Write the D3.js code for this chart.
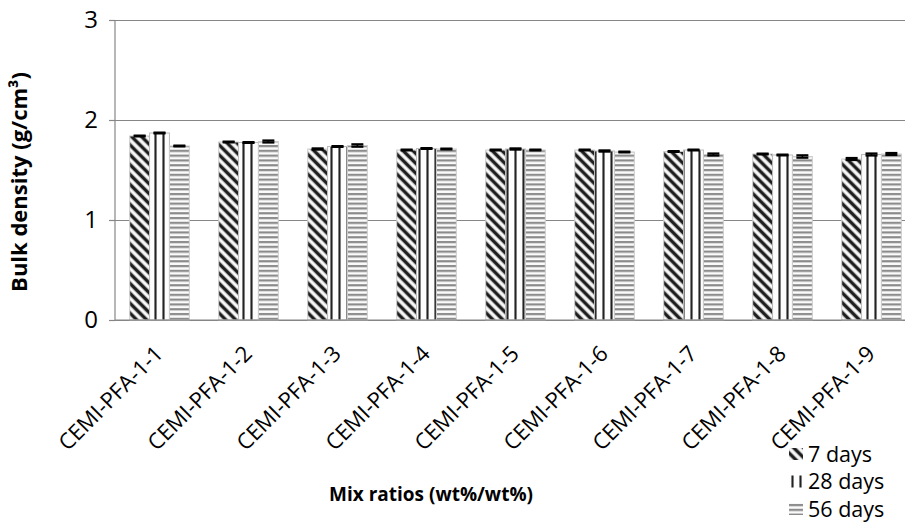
<!DOCTYPE html>
<html>
<head>
<meta charset="utf-8">
<script src="https://cdn.jsdelivr.net/npm/d3@7"></script>
<style>
  body { margin: 0; background: #fff; }
  text { font-family: "Open Sans", "Noto Sans", sans-serif; fill: #000; }
</style>
</head>
<body>
<div class="demo"></div>
<script>
(function() {
    var categories = ["CEMI-PFA-1-1", "CEMI-PFA-1-2", "CEMI-PFA-1-3", "CEMI-PFA-1-4", "CEMI-PFA-1-5",
                      "CEMI-PFA-1-6", "CEMI-PFA-1-7", "CEMI-PFA-1-8", "CEMI-PFA-1-9"];
    var seriesNames = ["7 days", "28 days", "56 days"];
    var days7  = [1.84, 1.78, 1.71, 1.70, 1.70, 1.70, 1.685, 1.66, 1.61];
    var days28 = [1.87, 1.775, 1.735, 1.715, 1.71, 1.69, 1.70, 1.65, 1.655];
    var days56 = [1.74, 1.785, 1.745, 1.71, 1.70, 1.68, 1.655, 1.635, 1.66];
    var err7  = [0.004, 0.004, 0.006, 0.004, 0.004, 0.004, 0.004, 0.004, 0.01];
    var err28 = [0.004, 0.004, 0.004, 0.004, 0.006, 0.006, 0.004, 0.004, 0.01];
    var err56 = [0.004, 0.01, 0.012, 0.004, 0.004, 0.004, 0.01, 0.012, 0.01];
    var yTicks = [0, 1, 2, 3];

    var width = 905,
        height = 524;

    var margin = {left: 115, top: 20, bottom: 204};
    var plotRight = 916;

    var svg = d3.select(".demo").append("svg")
        .attr("width", width)
        .attr("height", height);

    svg.append("rect").attr("width", width).attr("height", height).attr("fill", "#fff");

    // patterns for the three series
    var defs = svg.append("defs");

    var p1 = defs.append("pattern").attr("id", "pat0")
        .attr("patternUnits", "userSpaceOnUse")
        .attr("width", 7).attr("height", 7)
        .attr("patternTransform", "rotate(45)");
    p1.append("rect").attr("width", 7).attr("height", 7).attr("fill", "#fafafa");
    p1.append("rect").attr("y", 1.4).attr("width", 7).attr("height", 4.2).attr("fill", "#999");
    p1.append("rect").attr("y", 2.1).attr("width", 7).attr("height", 2.8).attr("fill", "#1a1a1a");

    var p2 = defs.append("pattern").attr("id", "pat1")
        .attr("patternUnits", "userSpaceOnUse")
        .attr("width", 8).attr("height", 8);
    p2.append("rect").attr("width", 8).attr("height", 8).attr("fill", "#fdfdfd");
    p2.append("rect").attr("x", 2).attr("width", 3).attr("height", 8).attr("fill", "#aaa");
    p2.append("rect").attr("x", 2.7).attr("width", 1.6).attr("height", 8).attr("fill", "#222");

    var p3 = defs.append("pattern").attr("id", "pat2")
        .attr("patternUnits", "userSpaceOnUse")
        .attr("width", 8).attr("height", 4.8);
    p3.append("rect").attr("width", 8).attr("height", 4.8).attr("fill", "#fbfbfb");
    p3.append("rect").attr("y", 1).attr("width", 8).attr("height", 2.2).attr("fill", "#8a8a8a");

    var y = d3.scaleLinear()
        .domain([0, 3])
        .range([height - margin.bottom, margin.top]);

    var x0 = d3.scaleBand()
        .domain(categories)
        .range([margin.left, plotRight])
        .paddingInner(0)
        .paddingOuter(0);

    var x1 = d3.scaleBand()
        .domain(seriesNames)
        .range([0, x0.bandwidth()])
        .paddingOuter(0.74)
        .paddingInner(0);

    // gridlines + y axis
    var yAxis = d3.axisLeft(y)
        .tickValues(yTicks)
        .tickSize(-(plotRight - margin.left))
        .tickFormat(d3.format("d"));

    var gy = svg.append("g")
        .attr("transform", "translate(" + margin.left + ",0)")
        .call(yAxis);
    gy.select(".domain").remove();
    gy.selectAll(".tick line").attr("stroke", "#868686").attr("stroke-width", 1.2);
    gy.selectAll(".tick").append("line")
        .attr("x1", -6).attr("x2", 0)
        .attr("stroke", "#868686").attr("stroke-width", 1.2);
    gy.selectAll(".tick text")
        .attr("x", -17)
        .style("font-size", "24px")
        .style("font-family", "'Open Sans', 'Noto Sans', sans-serif");

    svg.append("line")
        .attr("x1", margin.left).attr("x2", margin.left)
        .attr("y1", y(3)).attr("y2", y(0))
        .attr("stroke", "#868686").attr("stroke-width", 1.2);

    var series = [days7, days28, days56];
    var errs = [err7, err28, err56];

    var rows = [];
    categories.forEach(function(c, i) {
        seriesNames.forEach(function(s, j) {
            rows.push({cat: c, s: s, j: j, v: series[j][i], e: errs[j][i]});
        });
    });

    var bars = svg.append("g");
    bars.selectAll("rect")
        .data(rows)
        .enter().append("rect")
        .attr("x", function(d) { return x0(d.cat) + x1(d.s); })
        .attr("y", function(d) { return y(d.v); })
        .attr("width", x1.bandwidth())
        .attr("height", function(d) { return y(0) - y(d.v); })
        .attr("fill", function(d) { return "url(#pat" + d.j + ")"; })
        .attr("stroke", function(d) { return d.j === 1 ? "#bbb" : "#ccc"; })
        .attr("stroke-width", 1);

    // error bars
    var eb = svg.append("g").attr("stroke", "#000").attr("stroke-width", 1.6);
    rows.forEach(function(d) {
        var cx = x0(d.cat) + x1(d.s) + x1.bandwidth() / 2;
        var g = eb.append("g");
        g.append("line").attr("x1", cx).attr("x2", cx)
            .attr("y1", y(d.v + d.e)).attr("y2", y(d.v - d.e));
        [d.v + d.e, d.v - d.e].forEach(function(v) {
            g.append("line").attr("x1", cx - 6).attr("x2", cx + 6)
                .attr("y1", y(v)).attr("y2", y(v)).attr("stroke-width", 2.2);
        });
    });

    // x axis line
    svg.append("line")
        .attr("x1", margin.left).attr("x2", plotRight)
        .attr("y1", y(0)).attr("y2", y(0))
        .attr("stroke", "#868686").attr("stroke-width", 1.2);

    // category labels
    svg.append("g").selectAll("text")
        .data(categories)
        .enter().append("text")
        .attr("transform", function(d) {
            return "translate(" + (x0(d) + x0.bandwidth() / 2 + 5) + "," + (y(0) + 35) + ") rotate(-45)";
        })
        .attr("text-anchor", "end")
        .style("font-size", "22px")
        .text(function(d) { return d; });

    // axis titles
    svg.append("text")
        .attr("transform", "translate(27,182) rotate(-90)")
        .attr("text-anchor", "middle")
        .style("font-size", "22px")
        .style("font-weight", "bold")
        .text("Bulk density (g/cm³)");

    svg.append("text")
        .attr("x", 431).attr("y", 501)
        .attr("text-anchor", "middle")
        .style("font-size", "19px")
        .style("font-weight", "bold")
        .text("Mix ratios (wt%/wt%)");

    // legend
    var legend = svg.append("g").selectAll("g")
        .data(seriesNames)
        .enter().append("g")
        .attr("transform", function(d, i) { return "translate(789," + (448 + i * 27.5) + ")"; });
    legend.append("rect")
        .attr("width", 14).attr("height", 12)
        .attr("fill", function(d, i) { return "url(#pat" + i + ")"; });
    legend.append("text")
        .attr("x", 19).attr("y", 13.5)
        .style("font-size", "21.5px")
        .text(function(d) { return d; });
})();
</script>
</body>
</html>
